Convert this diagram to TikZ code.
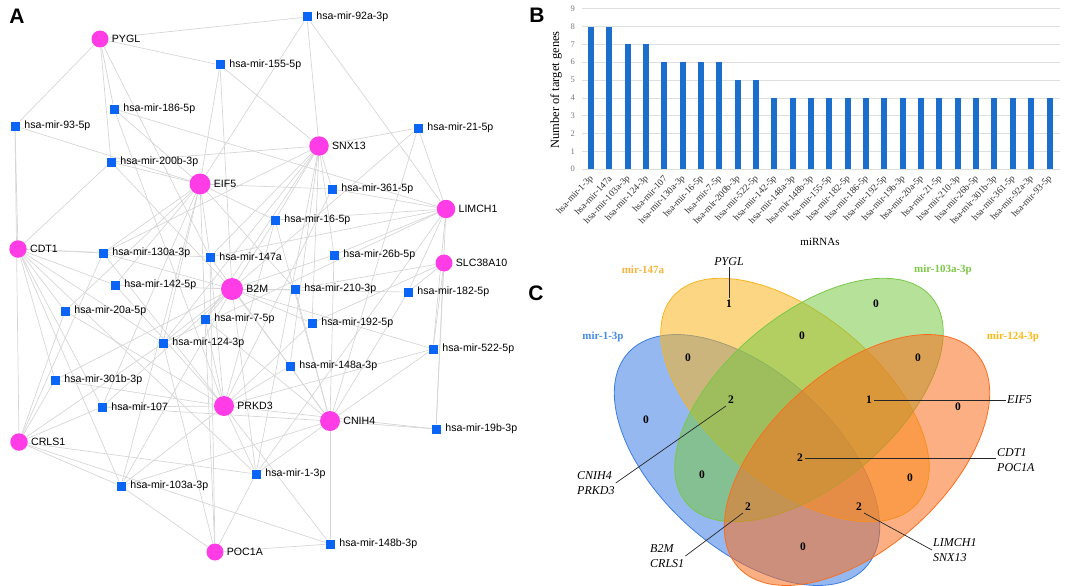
\documentclass[tikz,border=0pt]{standalone}
\usepackage{fontspec}
\setmainfont{Liberation Serif}
\newfontfamily\sansnet{Liberation Sans}
\usetikzlibrary{backgrounds}

%% colours
\definecolor{genepink}{RGB}{255,60,230}
\definecolor{mirblue}{RGB}{10,100,245}
\definecolor{edgegray}{RGB}{214,214,214}
\definecolor{barblue}{RGB}{28,110,205}
\definecolor{gridgray}{RGB}{222,222,222}
\definecolor{tickgray}{RGB}{120,120,120}
\definecolor{ticktext}{RGB}{50,50,50}
\definecolor{vblue}{RGB}{60,125,225}
\definecolor{vyellow}{RGB}{250,180,30}
\definecolor{vgreen}{RGB}{120,200,70}
\definecolor{vorange}{RGB}{250,110,30}
\definecolor{lblue}{RGB}{70,140,230}
\definecolor{lyellow}{RGB}{245,180,60}
\definecolor{lgreen}{RGB}{125,200,70}
\definecolor{lorange}{RGB}{255,185,20}

\tikzset{
  gene/.style={circle, fill=genepink, inner sep=0pt, minimum size=#1},
  mirna/.style={rectangle, fill=mirblue, inner sep=0pt, minimum size=9pt},
  netlab/.style={font=\sansnet\fontsize{10.6}{12}\selectfont, inner sep=0pt},
  netedge/.style={draw=edgegray, line width=0.7pt},
  panel/.style={font=\sansnet\bfseries\fontsize{21}{24}\selectfont, inner sep=0pt},
  gridline/.style={draw=gridgray, line width=0.6pt},
  xtick/.style={font=\fontsize{9.4}{11}\selectfont, inner sep=0pt, rotate=47, anchor=east, text=ticktext},
  ytick/.style={font=\fontsize{8.5}{10}\selectfont, text=tickgray, inner sep=0pt, anchor=east},
  vset/.style={fill opacity=0.55, draw=white, line width=0.8pt},
  vnum/.style={font=\bfseries\fontsize{11.5}{13}\selectfont, inner sep=2pt},
  vname/.style={font=\bfseries\fontsize{11}{13}\selectfont, inner sep=0pt},
  vgene/.style={font=\itshape\fontsize{12}{15.5}\selectfont, align=left, inner sep=1pt},
  leader/.style={draw=black!85, line width=0.7pt},
}

\begin{document}
\begin{tikzpicture}[x=1pt, y=-1pt]
  \useasboundingbox (0,0) rectangle (1065,586);

  \newcommand\gn[4]{\node[gene=#3pt, label={[netlab, xshift=3pt]right:#4}] (#1) at (#2) {};}
  \newcommand\mn[3]{\node[mirna, label={[netlab, xshift=4.5pt]right:#3}] (#1) at (#2) {};}

  %% panel letters
  \node[panel] (pA) at (17,16) {A};
  \node[panel] (pB) at (537,15) {B};
  \node[panel] (pC) at (536,293) {C};

  %% ---- A: network ----
  \gn{PYGL}{100,39}{17}{PYGL}
  \gn{SNX13}{319,146}{19.5}{SNX13}
  \gn{EIF5}{200,184}{21}{EIF5}
  \gn{LIMCH1}{446,209}{18.5}{LIMCH1}
  \gn{CDT1}{18,249}{17.5}{CDT1}
  \gn{SLC38A10}{444,263}{17}{SLC38A10}
  \gn{B2M}{232,289}{22}{B2M}
  \gn{PRKD3}{224,406}{20}{PRKD3}
  \gn{CNIH4}{330,421}{20}{CNIH4}
  \gn{CRLS1}{19,442}{17.5}{CRLS1}
  \gn{POC1A}{215,552}{17}{POC1A}

  \mn{m92a}{307,17}{hsa-mir-92a-3p}
  \mn{m155}{220,65}{hsa-mir-155-5p}
  \mn{m186}{114,109}{hsa-mir-186-5p}
  \mn{m93}{15,126}{hsa-mir-93-5p}
  \mn{m21}{418,128}{hsa-mir-21-5p}
  \mn{m200b}{111,162}{hsa-mir-200b-3p}
  \mn{m361}{332,189}{hsa-mir-361-5p}
  \mn{m16}{275,220}{hsa-mir-16-5p}
  \mn{m130a}{103,253}{hsa-mir-130a-3p}
  \mn{m147a}{210,257}{hsa-mir-147a}
  \mn{m26b}{334,255}{hsa-mir-26b-5p}
  \mn{m142}{115,285}{hsa-mir-142-5p}
  \mn{m210}{295,289}{hsa-mir-210-3p}
  \mn{m182}{408,292}{hsa-mir-182-5p}
  \mn{m20a}{65,311}{hsa-mir-20a-5p}
  \mn{m7}{205,319}{hsa-mir-7-5p}
  \mn{m192}{312,323}{hsa-mir-192-5p}
  \mn{m124}{163,343}{hsa-mir-124-3p}
  \mn{m522}{433,349}{hsa-mir-522-5p}
  \mn{m148a}{290,366}{hsa-mir-148a-3p}
  \mn{m301b}{55,380}{hsa-mir-301b-3p}
  \mn{m107}{102,407}{hsa-mir-107}
  \mn{m19b}{436,429}{hsa-mir-19b-3p}
  \mn{m1}{256,474}{hsa-mir-1-3p}
  \mn{m103a}{121,486}{hsa-mir-103a-3p}
  \mn{m148b}{330,544}{hsa-mir-148b-3p}

  \begin{scope}[on background layer]
    \foreach \m/\gs in {
      m1/{CNIH4,PRKD3,B2M,CRLS1,LIMCH1,SNX13,CDT1,POC1A},
      m147a/{PYGL,CNIH4,PRKD3,LIMCH1,SNX13,EIF5,CDT1,POC1A},
      m103a/{CNIH4,PRKD3,EIF5,B2M,CRLS1,CDT1,POC1A},
      m124/{B2M,CRLS1,LIMCH1,SNX13,EIF5,CDT1,POC1A},
      m107/{CDT1,CRLS1,PRKD3,EIF5,CNIH4,B2M},
      m130a/{CDT1,EIF5,B2M,PRKD3,CRLS1,SNX13},
      m16/{EIF5,SNX13,LIMCH1,B2M,PRKD3,CNIH4},
      m7/{EIF5,B2M,SNX13,PRKD3,CNIH4,POC1A},
      m200b/{CDT1,EIF5,SNX13,PYGL,B2M},
      m522/{SLC38A10,LIMCH1,CNIH4,PRKD3,B2M},
      m92a/{PYGL,SNX13,LIMCH1,EIF5},
      m155/{PYGL,SNX13,EIF5,B2M},
      m186/{PYGL,EIF5,LIMCH1,PRKD3},
      m93/{PYGL,CDT1,EIF5,CRLS1},
      m21/{SNX13,LIMCH1,CNIH4,B2M},
      m361/{SNX13,EIF5,LIMCH1,PRKD3},
      m26b/{SNX13,LIMCH1,B2M,CNIH4},
      m142/{CDT1,B2M,EIF5,PRKD3},
      m210/{EIF5,B2M,SLC38A10,CNIH4},
      m182/{LIMCH1,SLC38A10,B2M,CNIH4},
      m20a/{CDT1,EIF5,PRKD3,CRLS1},
      m192/{B2M,SNX13,SLC38A10,PRKD3},
      m148a/{B2M,PRKD3,CNIH4,SNX13},
      m301b/{CDT1,CRLS1,PRKD3,B2M},
      m19b/{CNIH4,SLC38A10,PRKD3,LIMCH1},
      m148b/{CNIH4,PRKD3,POC1A,CRLS1}}
      \foreach \g in \gs
        \draw[netedge] (\m) -- (\g);
  \end{scope}

  %% ---- B: bar chart ----
  \foreach \t in {0,...,9} {
    \draw[gridline] (582,{169-\t*17.8}) -- (1060,{169-\t*17.8});
    \node[ytick] (yt\t) at (575,{169-\t*17.8}) {\t};
  }
  \foreach \v/\lab [count=\i] in {8/hsa-mir-1-3p, 8/hsa-mir-147a, 7/hsa-mir-103a-3p,
      7/hsa-mir-124-3p, 6/hsa-mir-107, 6/hsa-mir-130a-3p, 6/hsa-mir-16-5p, 6/hsa-mir-7-5p,
      5/hsa-mir-200b-3p, 5/hsa-mir-522-5p, 4/hsa-mir-142-5p, 4/hsa-mir-148a-3p,
      4/hsa-mir-148b-3p, 4/hsa-mir-155-5p, 4/hsa-mir-182-5p, 4/hsa-mir-186-5p,
      4/hsa-mir-192-5p, 4/hsa-mir-19b-3p, 4/hsa-mir-20a-5p, 4/hsa-mir-21-5p,
      4/hsa-mir-210-3p, 4/hsa-mir-26b-5p, 4/hsa-mir-301b-3p, 4/hsa-mir-361-5p,
      4/hsa-mir-92a-3p, 4/hsa-mir-93-5p} {
    \pgfmathsetmacro\bx{591+(\i-1)*18.34}
    \fill[barblue] (\bx-3,169) rectangle (\bx+3,{169-\v*17.8});
    \node[xtick] (xl\i) at (\bx+1,177) {\lab};
  }
  \node[font=\fontsize{12.5}{14}\selectfont, rotate=90] (ytitle) at (556,90) {Number of target genes};
  \node[font=\fontsize{11}{13}\selectfont] (xtitle) at (820,242) {miRNAs};

  %% ---- C: Venn ----
  \fill[vset, vblue, rotate around={-42:(747,460)}] (747,460) ellipse [x radius=160pt, y radius=88pt];
  \fill[vset, vyellow, rotate around={-40:(795,400)}] (795,400) ellipse [x radius=160pt, y radius=85pt];
  \fill[vset, vgreen, rotate around={40:(809,400)}] (809,400) ellipse [x radius=160pt, y radius=85pt];
  \fill[vset, vorange, rotate around={42:(857,460)}] (857,460) ellipse [x radius=160pt, y radius=88pt];

  \node[vname, text=lblue] (sA) at (603,337) {mir-1-3p};
  \node[vname, text=lyellow] (sB) at (643,270) {mir-147a};
  \node[vname, text=lgreen] (sC) at (943,270) {mir-103a-3p};
  \node[vname, text=lorange] (sD) at (1013,337) {mir-124-3p};

  \node[vnum] (nA) at (646,420) {0};
  \node[vnum] (nB) at (729,304) {1};
  \node[vnum] (nC) at (876,304) {0};
  \node[vnum] (nD) at (958,407) {0};
  \node[vnum] (nAB) at (688,358) {0};
  \node[vnum] (nBC) at (802,336) {0};
  \node[vnum] (nCD) at (918,358) {0};
  \node[vnum] (nAC) at (702,475) {0};
  \node[vnum] (nBD) at (910,478) {0};
  \node[vnum] (nABC) at (731,400) {2};
  \node[vnum] (nBCD) at (869,400) {1};
  \node[vnum] (nABCD) at (800,458) {2};
  \node[vnum] (nACD) at (748,507) {2};
  \node[vnum] (nABD) at (859,507) {2};
  \node[vnum] (nAD) at (803,547) {0};

  \node[vgene] (tPYGL) at (729,262) {PYGL};
  \node[vgene, anchor=west] (tEIF) at (1006,400) {EIF5};
  \node[vgene, anchor=west] (tCDT) at (996,460) {CDT1\\POC1A};
  \node[vgene, anchor=west] (tLIM) at (932,550) {LIMCH1\\SNX13};
  \node[vgene, anchor=west] (tCNIH) at (576,483) {CNIH4\\PRKD3};
  \node[vgene, anchor=west] (tB2M) at (649,556) {B2M\\CRLS1};

  \draw[leader] (nB.north) -- (tPYGL.south);
  \draw[leader] (nBCD.east) -- (tEIF.west);
  \draw[leader] (nABCD.east) -- (nABCD.east -| tCDT.west);
  \draw[leader] (nABD.south east) -- (tLIM.west);
  \draw[leader] (nABC.south west) -- (tCNIH.east);
  \draw[leader] (nACD.south west) -- (tB2M.east);
\end{tikzpicture}
\end{document}
